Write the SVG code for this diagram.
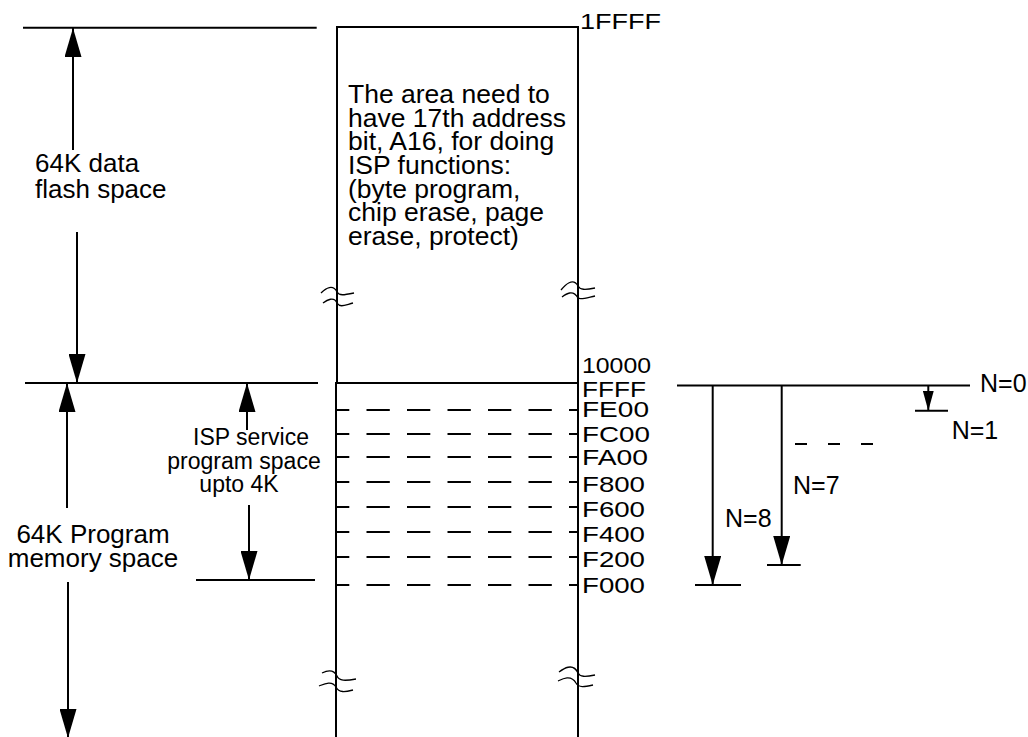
<svg xmlns="http://www.w3.org/2000/svg" width="1028" height="737" viewBox="0 0 1028 737">
<style>
.ln{stroke:#000;stroke-width:2;fill:none}
.dash{stroke:#000;stroke-width:2;fill:none;stroke-dasharray:23.3 17.2;stroke-dashoffset:10}
.sq{stroke:#000;stroke-width:1.3;fill:none}
.t{font-family:"Liberation Sans",Arial,sans-serif;fill:#000}
.big{font-size:26.5px}
.lab{font-size:26px}
.isp{font-size:23px}
.adr{font-size:22.5px}
.n{font-size:25px}
</style>
<defs>
<marker id="ah" markerUnits="userSpaceOnUse" viewBox="0 0 29 17" markerWidth="29" markerHeight="17" refX="29" refY="8.5" orient="auto">
<path d="M0,0 L29,8.5 L0,17 z" fill="#000"/>
</marker>
<marker id="ahs" markerUnits="userSpaceOnUse" viewBox="0 0 20 11" markerWidth="20" markerHeight="11" refX="20" refY="5.5" orient="auto">
<path d="M0,0 L20,5.5 L0,11 z" fill="#000"/>
</marker>
</defs>
<rect width="1028" height="737" fill="#fff"/>

<g id="memory-box">
<path class="ln" d="M337,383 V27 H578 V737"/>
<path class="ln" d="M336,737 V383 H578"/>
<path class="dash" d="M336,410 H578 M336,434 H578 M336,457 H578 M336,482 H578 M336,507 H578 M336,532 H578 M336,557 H578 M336,585 H578"/>
<g id="breaks">
<path class="sq" d="M321,293 C326,288 333,284 337,292 C339,296 344,295 354,293"/>
<path class="sq" d="M323,303 C327,300 334,296 337,303 C340,308 345,305 353,303"/>
<path class="sq" d="M561,290 C565,285 573,277 578,286 C580,290 585,290 595,288"/>
<path class="sq" d="M562,297 C566,294 573,289 578,298 C580,300 586,298 595,296"/>
<path class="sq" d="M322,673 C326,671 333,668 337,676 C339,681 345,681 356,679"/>
<path class="sq" d="M319,686 C324,684 332,680 336,687 C339,693 345,692 353,690"/>
<path class="sq" d="M559,672 C563,669 573,662 578,673 C580,677 585,677 595,675"/>
<path class="sq" d="M558,681 C562,679 571,674 576,683 C579,688 584,687 593,685"/>
</g>
<text class="t big" x="348"><tspan x="348" y="103">The area need to</tspan><tspan x="348" y="126.7">have 17th address</tspan><tspan x="348" y="150.4">bit, A16, for doing</tspan><tspan x="348" y="174">ISP functions:</tspan><tspan x="348" y="197.7">(byte program,</tspan><tspan x="348" y="221.4">chip erase, page</tspan><tspan x="348" y="245">erase, protect)</tspan></text>
</g>

<g id="addresses">
<text class="t adr" x="580" y="29" textLength="81" lengthAdjust="spacingAndGlyphs">1FFFF</text>
<text class="t adr" x="582" y="373" textLength="69" lengthAdjust="spacingAndGlyphs">10000</text>
<text class="t adr" x="582" y="396.5" textLength="64" lengthAdjust="spacingAndGlyphs">FFFF</text>
<text class="t adr" x="582" y="416.7" textLength="67" lengthAdjust="spacingAndGlyphs">FE00</text>
<text class="t adr" x="582" y="441.5" textLength="68" lengthAdjust="spacingAndGlyphs">FC00</text>
<text class="t adr" x="582" y="465" textLength="66" lengthAdjust="spacingAndGlyphs">FA00</text>
<text class="t adr" x="582" y="491.5" textLength="63" lengthAdjust="spacingAndGlyphs">F800</text>
<text class="t adr" x="582" y="516.5" textLength="63" lengthAdjust="spacingAndGlyphs">F600</text>
<text class="t adr" x="582" y="541.5" textLength="63" lengthAdjust="spacingAndGlyphs">F400</text>
<text class="t adr" x="582" y="566.5" textLength="63" lengthAdjust="spacingAndGlyphs">F200</text>
<text class="t adr" x="582" y="592.5" textLength="63" lengthAdjust="spacingAndGlyphs">F000</text>
</g>

<g id="data-flash">
<text class="t lab"><tspan x="35" y="172">64K data</tspan><tspan x="35" y="198">flash space</tspan></text>
</g>
<g id="program-memory">
<text class="t lab" text-anchor="middle"><tspan x="93" y="543.3">64K Program</tspan><tspan x="93" y="567.3">memory space</tspan></text>
</g>
<g id="isp-service">
<text class="t isp" text-anchor="middle"><tspan x="251" y="445">ISP service</tspan><tspan x="244" y="468.5">program space</tspan><tspan x="239" y="492">upto 4K</tspan></text>
</g>
<g id="n-labels">
<text class="t n" x="980" y="391.7">N=0</text>
<text class="t n" x="951.7" y="439">N=1</text>
<text class="t n" x="793" y="494">N=7</text>
<text class="t n" x="725" y="526.7">N=8</text>
</g>

<g id="connectors">
<path class="ln" d="M23,27.7 H316.7"/>
<path class="ln" d="M25,383 H318"/>
<path class="ln" d="M196,580 H315"/>
<path class="ln" d="M677,385.5 H970"/>
<path class="ln" d="M695,585 H741 M767,565 H800.7 M915,410.7 H948"/>
<path class="ln" d="M795,444 H874" stroke-dasharray="12 21"/>
<line class="ln" x1="73" y1="150" x2="73" y2="28" marker-end="url(#ah)"/>
<line class="ln" x1="77" y1="232" x2="77" y2="383" marker-end="url(#ah)"/>
<line class="ln" x1="67" y1="508" x2="67" y2="383" marker-end="url(#ah)"/>
<line class="ln" x1="68" y1="582" x2="68" y2="738" marker-end="url(#ah)"/>
<line class="ln" x1="247" y1="430" x2="247" y2="383" marker-end="url(#ah)"/>
<line class="ln" x1="249" y1="505" x2="249" y2="580" marker-end="url(#ah)"/>
<line class="ln" x1="712.7" y1="385.5" x2="712.7" y2="585" marker-end="url(#ah)"/>
<line class="ln" x1="781.7" y1="385.5" x2="781.7" y2="565" marker-end="url(#ah)"/>
<line class="ln" x1="928.3" y1="385.5" x2="928.3" y2="410.7" marker-end="url(#ahs)"/>
</g>
</svg>
